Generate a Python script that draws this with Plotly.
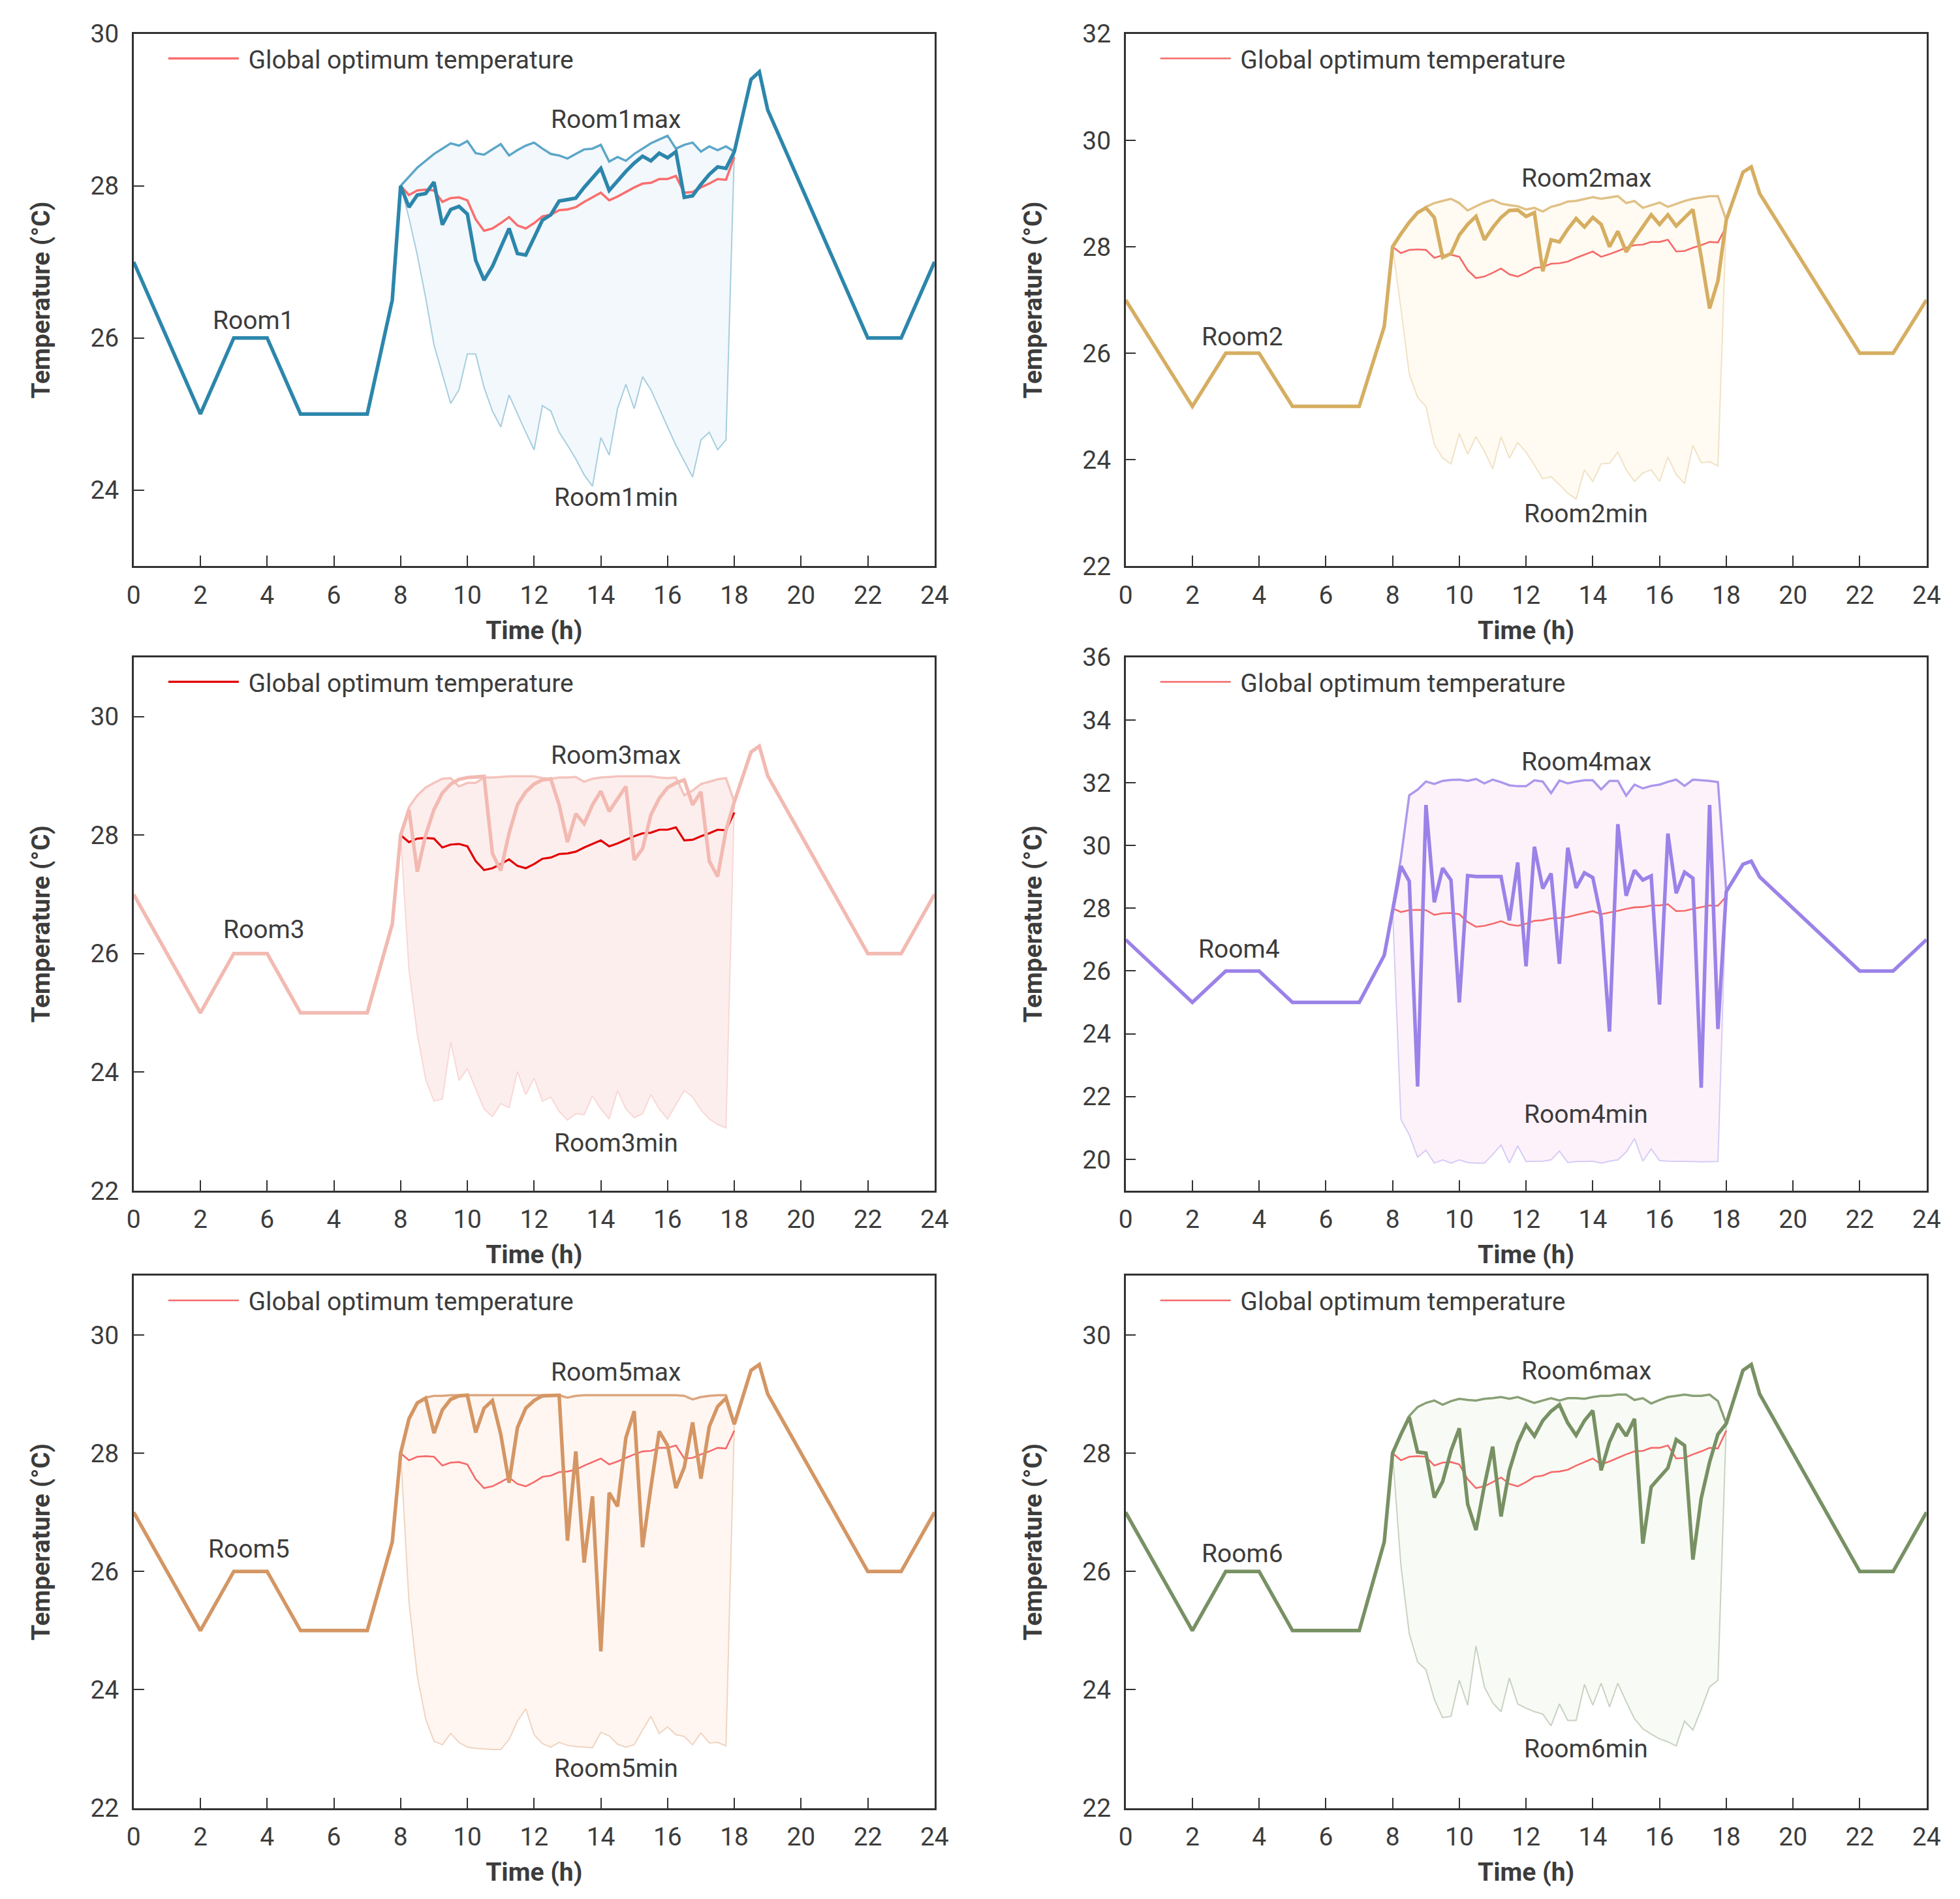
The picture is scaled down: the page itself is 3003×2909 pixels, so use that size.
import plotly.graph_objects as go

# ---- data -------------------------------------------------------------
hours_day = [8.0, 8.25, 8.5, 8.75, 9.0, 9.25, 9.5, 9.75, 10.0, 10.25, 10.5,
             10.75, 11.0, 11.25, 11.5, 11.75, 12.0, 12.25, 12.5, 12.75, 13.0,
             13.25, 13.5, 13.75, 14.0, 14.25, 14.5, 14.75, 15.0, 15.25, 15.5,
             15.75, 16.0, 16.25, 16.5, 16.75, 17.0, 17.25, 17.5, 17.75, 18.0]
hours_morning = [0, 2, 3, 4, 5, 7, 7.75]
temp_morning = [27, 25, 26, 26, 25, 25, 26.5]
hours_evening = [18.5, 18.75, 19, 22, 23, 24]
temp_evening = [29.4, 29.5, 29.0, 26, 26, 27]

global_opt = [28.0, 27.88, 27.94, 27.95, 27.94, 27.79, 27.84, 27.85, 27.81, 27.56,
              27.41, 27.44, 27.51, 27.59, 27.48, 27.44, 27.51, 27.6, 27.62, 27.68,
              27.69, 27.72, 27.79, 27.85, 27.91, 27.81, 27.86, 27.92, 27.98, 28.03,
              28.04, 28.09, 28.09, 28.13, 27.91, 27.92, 27.98, 28.03, 28.09, 28.08,
              28.38]

room1 = [28.0, 27.72, 27.88, 27.9, 28.05, 27.49, 27.69, 27.73, 27.63, 27.02,
         26.76, 26.94, 27.2, 27.44, 27.11, 27.09, 27.32, 27.55, 27.62, 27.8,
         27.82, 27.84, 27.98, 28.11, 28.23, 27.94, 28.07, 28.19, 28.3, 28.39,
         28.33, 28.43, 28.37, 28.45, 27.85, 27.87, 28.02, 28.15, 28.25, 28.23,
         28.45]
room1_max = [28.0, 28.12, 28.24, 28.33, 28.42, 28.49, 28.56, 28.53, 28.59, 28.43,
             28.41, 28.48, 28.55, 28.4, 28.47, 28.53, 28.57, 28.49, 28.42, 28.4,
             28.36, 28.42, 28.48, 28.49, 28.54, 28.32, 28.38, 28.33, 28.42, 28.49,
             28.56, 28.61, 28.66, 28.49, 28.54, 28.57, 28.45, 28.52, 28.47, 28.52,
             28.45]
room1_min = [28.0, 27.58, 27.09, 26.53, 25.91, 25.53, 25.14, 25.32, 25.79, 25.79,
             25.35, 25.04, 24.83, 25.25, 25.0, 24.76, 24.53, 25.11, 25.04, 24.76,
             24.59, 24.41, 24.2, 24.05, 24.69, 24.46, 25.07, 25.39, 25.07, 25.49,
             25.32, 25.07, 24.83, 24.59, 24.38, 24.17, 24.66, 24.76, 24.53, 24.66,
             28.45]

room2 = [28.0, 28.24, 28.46, 28.64, 28.73, 28.55, 27.8, 27.87, 28.22, 28.42,
         28.57, 28.13, 28.36, 28.55, 28.68, 28.69, 28.57, 28.64, 27.54, 28.13,
         28.09, 28.33, 28.53, 28.37, 28.55, 28.42, 28.0, 28.29, 27.9, 28.15,
         28.39, 28.6, 28.42, 28.6, 28.39, 28.55, 28.7, 27.8, 26.84, 27.36,
         28.5]
room2_max = [28.0, 28.24, 28.46, 28.64, 28.75, 28.82, 28.86, 28.9, 28.82, 28.68,
             28.76, 28.83, 28.88, 28.81, 28.78, 28.76, 28.7, 28.73, 28.66, 28.75,
             28.79, 28.85, 28.86, 28.9, 28.93, 28.9, 28.93, 28.95, 28.82, 28.86,
             28.73, 28.78, 28.83, 28.75, 28.81, 28.86, 28.9, 28.92, 28.95, 28.95,
             28.5]
room2_min = [28.0, 26.84, 25.61, 25.17, 25.0, 24.29, 24.03, 23.92, 24.49, 24.1,
             24.43, 24.16, 23.83, 24.43, 24.03, 24.32, 24.14, 23.9, 23.64, 23.68,
             23.53, 23.37, 23.26, 23.81, 23.59, 23.92, 23.93, 24.14, 23.81, 23.59,
             23.75, 23.81, 23.59, 24.05, 23.72, 23.55, 24.27, 23.94, 23.96, 23.88,
             28.5]

room3 = [28.0, 28.43, 27.38, 28.0, 28.43, 28.71, 28.86, 28.94, 28.97, 28.98,
         28.99, 27.69, 27.4, 28.03, 28.51, 28.73, 28.86, 28.93, 28.95, 28.51,
         27.88, 28.36, 28.19, 28.51, 28.74, 28.4, 28.62, 28.82, 27.58, 27.77,
         28.34, 28.62, 28.8, 28.88, 28.93, 28.51, 28.73, 27.56, 27.3, 28.08,
         28.56]
room3_max = [28.0, 28.47, 28.67, 28.8, 28.88, 28.95, 28.96, 28.82, 28.88, 28.88,
             28.97, 28.97, 28.98, 28.99, 28.99, 28.99, 28.99, 28.96, 28.95, 28.97,
             28.97, 28.98, 28.9, 28.95, 28.97, 28.98, 28.99, 28.99, 28.99, 28.99,
             28.99, 28.97, 28.96, 28.97, 28.67, 28.75, 28.86, 28.9, 28.94, 28.96,
             28.56]
room3_min = [28.0, 25.73, 24.64, 23.88, 23.51, 23.55, 24.51, 23.86, 24.06, 23.73,
             23.38, 23.25, 23.47, 23.4, 24.01, 23.62, 23.9, 23.51, 23.58, 23.34,
             23.19, 23.3, 23.28, 23.6, 23.38, 23.21, 23.69, 23.38, 23.23, 23.3,
             23.62, 23.38, 23.21, 23.45, 23.69, 23.58, 23.36, 23.21, 23.12, 23.06,
             28.56]

room4 = [28.0, 29.34, 28.86, 22.32, 31.29, 28.19, 29.28, 28.9, 25.0, 29.04,
         29.01, 29.01, 29.01, 29.01, 27.61, 29.46, 26.15, 29.96, 28.63, 29.11,
         26.23, 29.93, 28.65, 29.13, 28.98, 27.7, 24.07, 30.68, 28.4, 29.21,
         28.9, 29.03, 24.93, 30.38, 28.48, 29.15, 28.96, 22.28, 31.29, 24.15,
         28.53]
room4_max = [28.0, 29.6, 31.6, 31.78, 32.04, 31.96, 32.06, 32.09, 32.1, 32.06,
             32.12, 31.98, 32.1, 32.02, 31.92, 31.89, 31.89, 32.08, 32.04, 31.67,
             32.07, 31.98, 32.04, 32.08, 32.08, 31.79, 32.06, 32.06, 31.59, 31.94,
             31.82, 31.9, 31.94, 32.03, 32.1, 31.9, 32.1, 32.08, 32.06, 32.02,
             28.53]
room4_min = [28.0, 21.27, 20.78, 20.07, 20.29, 19.88, 19.98, 19.88, 19.98, 19.9,
             19.88, 19.88, 20.15, 20.46, 19.88, 20.43, 19.93, 19.94, 19.94, 19.98,
             20.26, 19.9, 19.93, 19.93, 19.94, 19.88, 19.94, 19.98, 20.23, 20.66,
             19.94, 20.33, 19.96, 19.94, 19.94, 19.93, 19.93, 19.92, 19.92, 19.93,
             28.53]

room5 = [28.0, 28.58, 28.85, 28.93, 28.34, 28.73, 28.91, 28.97, 28.98, 28.35,
         28.76, 28.89, 28.32, 27.5, 28.43, 28.76, 28.89, 28.97, 28.98, 28.98,
         26.52, 28.03, 26.15, 27.27, 24.65, 27.33, 27.1, 28.26, 28.71, 26.41,
         27.42, 28.37, 28.13, 27.41, 27.76, 28.52, 27.57, 28.45, 28.79, 28.93,
         28.49]
room5_max = [28.0, 28.6, 28.85, 28.94, 28.97, 28.97, 28.98, 28.98, 28.98, 28.98,
             28.98, 28.98, 28.98, 28.98, 28.98, 28.98, 28.98, 28.98, 28.98, 28.98,
             28.94, 28.97, 28.98, 28.98, 28.98, 28.98, 28.98, 28.98, 28.98, 28.98,
             28.98, 28.98, 28.98, 28.98, 28.97, 28.91, 28.95, 28.97, 28.98, 28.98,
             28.49]
room5_min = [28.0, 25.49, 24.23, 23.51, 23.13, 23.07, 23.26, 23.11, 23.03, 23.01,
             23.0, 22.99, 22.99, 23.16, 23.47, 23.68, 23.24, 23.09, 23.03, 23.11,
             23.06, 23.04, 23.03, 23.02, 23.28, 23.22, 23.08, 23.03, 23.07, 23.32,
             23.55, 23.26, 23.37, 23.24, 23.21, 23.07, 23.27, 23.1, 23.11, 23.05,
             28.49]

room6 = [28.0, 28.32, 28.61, 28.02, 28.0, 27.25, 27.52, 28.04, 28.42, 27.14,
         26.7, 27.45, 28.11, 26.93, 27.71, 28.17, 28.48, 28.29, 28.55, 28.71,
         28.82, 28.51, 28.3, 28.55, 28.72, 27.71, 28.19, 28.5, 28.29, 28.58,
         26.47, 27.43, 27.6, 27.75, 28.23, 28.13, 26.2, 27.24, 27.85, 28.32,
         28.5]
room6_max = [28.0, 28.32, 28.63, 28.78, 28.85, 28.89, 28.82, 28.88, 28.92, 28.9,
             28.89, 28.92, 28.93, 28.95, 28.92, 28.95, 28.9, 28.85, 28.89, 28.93,
             28.89, 28.93, 28.93, 28.92, 28.95, 28.97, 28.97, 28.99, 28.99, 28.9,
             28.93, 28.84, 28.9, 28.95, 28.97, 28.99, 28.97, 28.97, 28.99, 28.88,
             28.5]
room6_min = [28.0, 26.1, 24.95, 24.47, 24.34, 23.84, 23.53, 23.55, 24.16, 23.74,
             24.74, 24.05, 23.78, 23.63, 24.2, 23.76, 23.69, 23.63, 23.59, 23.39,
             23.76, 23.48, 23.48, 24.09, 23.74, 24.11, 23.71, 24.11, 23.8, 23.51,
             23.34, 23.25, 23.17, 23.12, 23.05, 23.47, 23.32, 23.67, 24.05, 24.16,
             28.5]

room_names = ["Room1", "Room2", "Room3", "Room4", "Room5", "Room6"]
rooms = [room1, room2, room3, room4, room5, room6]
rooms_max = [room1_max, room2_max, room3_max, room4_max, room5_max, room6_max]
rooms_min = [room1_min, room2_min, room3_min, room4_min, room5_min, room6_min]

y_ranges = [[23, 30], [22, 32], [22, 31], [19, 36], [22, 31], [22, 31]]
y_ticks = [[24, 26, 28, 30], [22, 24, 26, 28, 30, 32], [22, 24, 26, 28, 30],
           [20, 22, 24, 26, 28, 30, 32, 34, 36], [22, 24, 26, 28, 30],
           [22, 24, 26, 28, 30]]
x_ticks = [0, 2, 4, 6, 8, 10, 12, 14, 16, 18, 20, 22, 24]
x_labels = ["0", "2", "4", "6", "8", "10", "12", "14", "16", "18", "20", "22", "24"]
x_labels_room3 = ["0", "2", "6", "4", "8", "10", "12", "14", "16", "18", "20", "22", "24"]

# label positions (time, temperature) for room / max / min captions
label_room = [(3.6, 26.23), (3.5, 26.31), (3.9, 26.4), (3.4, 26.69), (3.45, 26.38), (3.5, 26.3)]
label_max = [(14.45, 28.87), (13.8, 29.29), (14.45, 29.35), (13.8, 32.66), (14.45, 29.37), (13.8, 29.39)]
label_min = [(14.45, 23.9), (13.8, 22.98), (14.45, 22.8), (13.8, 21.43), (14.45, 22.67), (13.8, 23.0)]

# ---- styles -----------------------------------------------------------
main_colors = ["rgb(44,134,171)", "rgb(214,174,98)", "rgb(242,186,178)",
               "rgb(155,130,232)", "rgb(212,150,100)", "rgb(120,145,100)"]
max_colors = ["rgb(92,166,200)", "rgb(224,192,134)", "rgb(244,196,189)",
              "rgb(172,152,236)", "rgb(220,166,126)", "rgb(137,160,118)"]
min_colors = ["rgb(166,206,222)", "rgb(241,226,197)", "rgb(248,216,213)",
              "rgb(214,204,245)", "rgb(240,212,192)", "rgb(200,210,193)"]
fill_colors = ["rgb(243,248,252)", "rgb(255,251,242)", "rgb(253,238,238)",
               "rgb(253,242,250)", "rgb(255,246,241)", "rgb(248,251,245)"]
opt_colors = ["rgb(250,110,110)", "rgb(245,105,105)", "rgb(226,0,0)",
              "rgb(245,105,105)", "rgb(245,105,105)", "rgb(245,105,105)"]
opt_widths = [3.6, 2.6, 3.2, 2.6, 2.6, 2.6]

# page body adds an 8px offset; domains are shifted to compensate
DX = 8 / 3003
DY = 8 / 2909
x_domains = [[0.0682 - DX, 0.4768 - DX], [0.5743 - DX, 0.9829 - DX]]
y_domains = [[0.7019 + DY, 0.9822 + DY], [0.3730 + DY, 0.6539 + DY],
             [0.0479 + DY, 0.3282 + DY]]

FONT = "Roboto"
TEXT = "rgb(60,60,60)"
FS = 39

fig = go.Figure()
layout = dict(
    width=3003, height=2909,
    margin=dict(l=0, r=0, t=0, b=0, autoexpand=False),
    paper_bgcolor="white", plot_bgcolor="white",
    font=dict(family=FONT, size=FS, color=TEXT),
    annotations=[],
)

for i in range(6):
    n = i + 1
    sfx = "" if n == 1 else str(n)
    xa, ya = "x" + sfx, "y" + sfx
    leg = "legend" + sfx

    fig.add_trace(go.Scatter(
        x=hours_day, y=rooms_min[i], xaxis=xa, yaxis=ya, mode="lines",
        line=dict(color=min_colors[i], width=2), showlegend=False,
    ))
    fig.add_trace(go.Scatter(
        x=hours_day, y=rooms_max[i], xaxis=xa, yaxis=ya, mode="lines",
        line=dict(color=max_colors[i], width=3.5), fill="tonexty",
        fillcolor=fill_colors[i], showlegend=False,
    ))
    fig.add_trace(go.Scatter(
        x=hours_day, y=global_opt, xaxis=xa, yaxis=ya, mode="lines",
        line=dict(color=opt_colors[i], width=opt_widths[i]),
        name=" Global optimum temperature", legend=leg, showlegend=True,
    ))
    fig.add_trace(go.Scatter(
        x=hours_morning + hours_day + hours_evening,
        y=temp_morning + rooms[i] + temp_evening,
        xaxis=xa, yaxis=ya, mode="lines",
        line=dict(color=main_colors[i], width=5.5), showlegend=False,
    ))

    xd = x_domains[i % 2]
    yd = y_domains[i // 2]
    layout["xaxis" + sfx] = dict(
        domain=xd, anchor=ya, range=[0, 24], automargin=False,
        tickvals=x_ticks, ticktext=x_labels_room3 if n == 3 else x_labels,
        ticks="inside", ticklen=16, tickwidth=2, tickcolor="rgb(50,50,50)",
        ticklabelstandoff=8,
        showline=True, mirror=True, linecolor="rgb(50,50,50)", linewidth=2.5,
        showgrid=False, zeroline=False,
        tickfont=dict(family=FONT, size=FS, color=TEXT),
        title=dict(text="<b>Time (h)</b>", standoff=18,
                   font=dict(family=FONT, size=FS, color=TEXT)),
    )
    layout["yaxis" + sfx] = dict(
        domain=yd, anchor=xa, range=y_ranges[i], tickvals=y_ticks[i],
        automargin=False,
        ticks="inside", ticklen=16, tickwidth=2, tickcolor="rgb(50,50,50)",
        ticklabelstandoff=12,
        showline=True, mirror=True, linecolor="rgb(50,50,50)", linewidth=2.5,
        showgrid=False, zeroline=False,
        tickfont=dict(family=FONT, size=FS, color=TEXT),
        title=dict(text="<b>Temperature (°C)</b>", standoff=50,
                   font=dict(family=FONT, size=FS, color=TEXT)),
    )
    layout[leg] = dict(
        x=xd[0] + 0.016, y=yd[1] - 0.002, xanchor="left", yanchor="top",
        bgcolor="rgba(0,0,0,0)", itemwidth=108,
        font=dict(family=FONT, size=FS, color=TEXT),
    )
    for (tx, ty), text in [(label_room[i], room_names[i]),
                           (label_max[i], room_names[i] + "max"),
                           (label_min[i], room_names[i] + "min")]:
        layout["annotations"].append(dict(
            x=tx, y=ty, xref=xa, yref=ya, text=text, showarrow=False,
            xanchor="center", yanchor="middle",
            font=dict(family=FONT, size=FS, color=TEXT),
        ))

fig.update_layout(**layout)
fig.write_html("out.html")
